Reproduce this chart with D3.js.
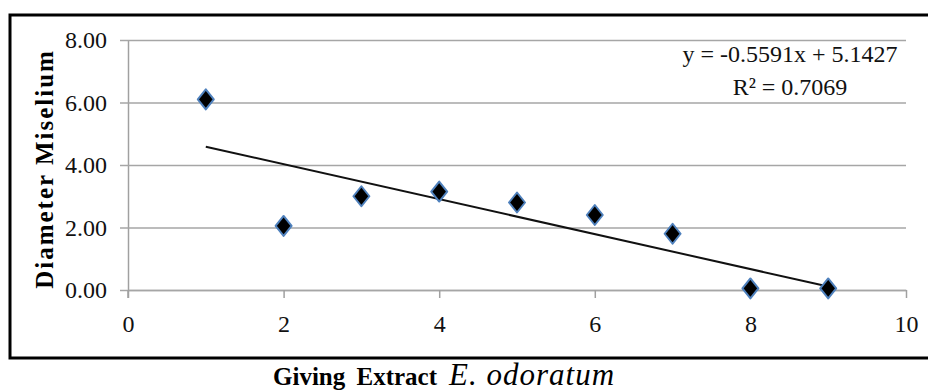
<!DOCTYPE html>
<html>
<head>
<meta charset="utf-8">
<script src="https://cdn.jsdelivr.net/npm/d3@7"></script>
<style>
  body { margin: 0; background: #fff; }
  svg { display: block; }
</style>
</head>
<body>
<div id="chart"></div>
<script>
// Data
const doses = [1, 2, 3, 4, 5, 6, 7, 8, 9];
const diameters = [6.1, 2.05, 3.0, 3.15, 2.8, 2.4, 1.8, 0.05, 0.05];
const xTicks = [0, 2, 4, 6, 8, 10];
const yTicks = [0, 2, 4, 6, 8];
// trendline as printed on the chart
const slope = -0.5591;
const intercept = 5.1427;
const rSquared = 0.7069;

const width = 928, height = 392;
const margin = { top: 40, right: 22, bottom: 102, left: 128 };
const serif = '"Liberation Serif", "Times New Roman", serif';

const x = d3.scaleLinear().domain([0, 10]).range([margin.left, width - margin.right]);
const y = d3.scaleLinear().domain([0, 8]).range([height - margin.bottom, margin.top]);

const svg = d3.select('#chart')
  .append('svg')
  .attr('width', width)
  .attr('height', height)
  .style('font-family', serif);

// outer frame (right side runs off the page)
svg.append('rect')
  .attr('x', 10).attr('y', 15)
  .attr('width', 940).attr('height', 343)
  .attr('fill', 'none')
  .attr('stroke', '#000')
  .attr('stroke-width', 3);

// horizontal gridlines + y axis
const yAxis = svg.append('g')
  .attr('transform', `translate(${margin.left},0)`)
  .call(d3.axisLeft(y).tickValues(yTicks).tickFormat(d3.format('.2f'))
    .tickSize(-(x.range()[1] - x.range()[0])).tickSizeOuter(0));
yAxis.attr('font-family', null).attr('font-size', null);
yAxis.select('.domain').attr('stroke', '#a0a0a0').attr('stroke-width', 1.5);
yAxis.selectAll('.tick line')
  .attr('x1', -8)
  .attr('stroke', '#a6a6a6').attr('stroke-width', 1.5);
yAxis.selectAll('.tick text')
  .attr('x', -21)
  .style('font-family', serif)
  .style('font-size', '24px')
  .attr('fill', '#111');

// extend the y axis line down to the x tick length
svg.append('line')
  .attr('x1', margin.left).attr('x2', margin.left)
  .attr('y1', y(0)).attr('y2', y(0) + 8)
  .attr('stroke', '#a0a0a0').attr('stroke-width', 1.5);

// x axis
const xAxis = svg.append('g')
  .attr('transform', `translate(0,${y(0)})`)
  .call(d3.axisBottom(x).tickValues(xTicks).tickSize(8).tickSizeOuter(0));
xAxis.attr('font-family', null).attr('font-size', null);
xAxis.select('.domain').attr('stroke', '#a6a6a6').attr('stroke-width', 1.5);
xAxis.selectAll('.tick line').attr('stroke', '#a0a0a0').attr('stroke-width', 1.5);
xAxis.selectAll('.tick text')
  .attr('y', 25)
  .attr('dy', '0.71em')
  .style('font-family', serif)
  .style('font-size', '24px')
  .attr('fill', '#111');

// trendline
svg.append('line')
  .attr('x1', x(doses[0]))
  .attr('y1', y(slope * doses[0] + intercept))
  .attr('x2', x(doses[doses.length - 1]))
  .attr('y2', y(slope * doses[doses.length - 1] + intercept))
  .attr('stroke', '#111')
  .attr('stroke-width', 2);

// diamond markers
const diamond = 'M0,-10L8,0L0,10L-8,0Z';
svg.selectAll('.pt')
  .data(doses)
  .enter()
  .append('path')
  .attr('class', 'pt')
  .attr('d', diamond)
  .attr('transform', (d, i) => `translate(${x(d)},${y(diameters[i])})`)
  .attr('fill', '#000')
  .attr('stroke', '#4f81bd')
  .attr('stroke-width', 2)
  .attr('stroke-linejoin', 'round');

// equation label
const eq = svg.append('text')
  .attr('text-anchor', 'middle')
  .style('font-family', serif)
  .style('font-size', '24px')
  .attr('fill', '#111');
eq.append('tspan').attr('x', 790).attr('y', 62)
  .text(`y = ${slope}x + ${intercept}`);
eq.append('tspan').attr('x', 790).attr('y', 95)
  .text(`R² = ${rSquared}`);

// y axis title
svg.append('text')
  .attr('transform', `translate(53,${(50 + 288) / 2}) rotate(-90)`)
  .attr('text-anchor', 'middle')
  .style('font-family', serif)
  .style('font-weight', 'bold')
  .style('font-size', '25px')
  .style('letter-spacing', '2px')
  .attr('fill', '#000')
  .text('Diameter Miselium');

// x axis title
const xt = svg.append('text')
  .attr('x', 273)
  .attr('y', 385)
  .style('font-family', serif)
  .attr('fill', '#000');
xt.append('tspan')
  .style('font-weight', 'bold')
  .style('font-size', '25px')
  .style('word-spacing', '5px')
  .text('Giving Extract');
xt.append('tspan')
  .style('font-style', 'italic')
  .style('font-size', '31px')
  .style('letter-spacing', '1px')
  .attr('dx', 12)
  .text('E. odoratum');
</script>
</body>
</html>
